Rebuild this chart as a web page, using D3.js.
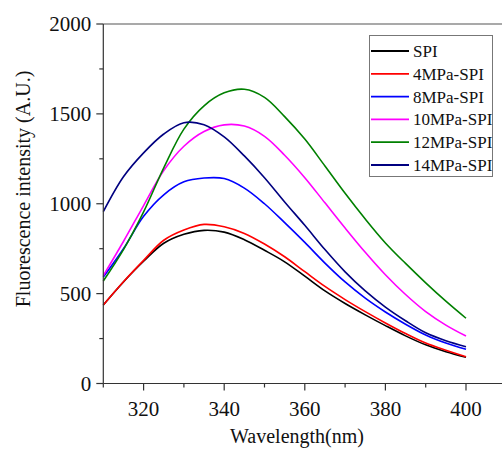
<!DOCTYPE html>
<html>
  <head>
    <meta charset="utf-8">
    <title></title>
    <script type="text/javascript" src="https://d3js.org/d3.v7.min.js"></script>
    <style media="screen">
      body { margin: 0; background: #fff; }
      text { font-family: "Liberation Serif", "Times New Roman", serif; fill: #111; }
    </style>
  </head>
  <body>
    <div class="vis">
    </div>
    <script type="text/javascript">
      var wavelength = [310, 315, 320, 325, 330, 335, 340, 345, 350, 355, 360, 365, 370, 375, 380, 385, 390, 395, 400];
      var spi     = [437, 565, 680, 780, 830, 852, 842, 800, 741, 677, 597, 515, 445, 382, 322, 265, 215, 177, 146];
      var mpa4    = [437, 566, 685, 797, 854, 885, 872, 835, 776, 705, 622, 540, 467, 400, 337, 278, 225, 185, 149];
      var mpa8    = [592, 750, 930, 1050, 1122, 1143, 1140, 1087, 1000, 895, 785, 670, 565, 475, 398, 330, 270, 225, 190];
      var mpa10   = [600, 790, 990, 1185, 1320, 1402, 1439, 1432, 1375, 1270, 1145, 1005, 865, 730, 605, 495, 400, 325, 264];
      var mpa12   = [570, 745, 955, 1200, 1415, 1545, 1617, 1637, 1592, 1485, 1360, 1210, 1058, 915, 782, 668, 560, 458, 363];
      var mpa14   = [956, 1150, 1283, 1388, 1451, 1440, 1372, 1266, 1145, 1010, 880, 745, 621, 515, 425, 349, 282, 238, 205];
      var seriesNames = ["SPI", "4MPa-SPI", "8MPa-SPI", "10MPa-SPI", "12MPa-SPI", "14MPa-SPI"];
      var seriesColors = ["#000000", "#ff0000", "#0000ff", "#ff00ff", "#008000", "#000080"];
      var xTicks = [320, 340, 360, 380, 400];
      var yTicks = [0, 500, 1000, 1500, 2000];

      var w = 502;
      var h = 450;
      var allSeries = [spi, mpa4, mpa8, mpa10, mpa12, mpa14];

      var xscale = d3.scaleLinear().domain([310, 410]).range([103.3, 506.3]);
      var yscale = d3.scaleLinear().domain([0, 2000]).range([383.5, 24]);

      var svg = d3.select('body')
        .append('svg')
        .attr('width', w)
        .attr('height', h);

      // frame top/right (right edge falls outside the picture)
      svg.append('path')
        .attr('d', 'M' + xscale(310) + ',' + yscale(2000) + 'H' + xscale(410) + 'V' + yscale(0))
        .attr('fill', 'none')
        .attr('stroke', '#555')
        .attr('stroke-width', 1.2);

      var line = d3.line()
        .x(function(d, i) { return xscale(wavelength[i]); })
        .y(function(d) { return yscale(d); })
        .curve(d3.curveCatmullRom.alpha(0.5));

      svg.selectAll('path.series')
        .data(allSeries)
        .enter()
        .append('path')
        .attr('class', 'series')
        .attr('d', line)
        .attr('fill', 'none')
        .attr('stroke', function(d, i) { return seriesColors[i]; })
        .attr('stroke-width', 1.6);

      // axes
      var xMinor = d3.range(310, 411, 10);
      var yMinor = d3.range(0, 2001, 250);

      var xAxis = svg.append('g').attr('transform', 'translate(0,' + yscale(0) + ')');
      xAxis.append('path').attr('d', 'M' + xscale(310) + ',0H' + xscale(410)).attr('stroke', '#333').attr('stroke-width', 1.2);
      xAxis.selectAll('line')
        .data(xMinor)
        .enter()
        .append('line')
        .attr('x1', function(d) { return xscale(d); })
        .attr('x2', function(d) { return xscale(d); })
        .attr('y1', 0)
        .attr('y2', function(d) { return d % 20 == 0 ? 7 : 4; })
        .attr('stroke', '#333')
        .attr('stroke-width', 1.2);
      xAxis.selectAll('text')
        .data(xTicks)
        .enter()
        .append('text')
        .attr('x', function(d) { return xscale(d); })
        .attr('y', 32)
        .attr('text-anchor', 'middle')
        .attr('font-size', 21)
        .text(function(d) { return d; });

      var yAxis = svg.append('g').attr('transform', 'translate(' + xscale(310) + ',0)');
      yAxis.append('path').attr('d', 'M0,' + yscale(0) + 'V' + yscale(2000)).attr('stroke', '#333').attr('stroke-width', 1.2);
      yAxis.selectAll('line')
        .data(yMinor)
        .enter()
        .append('line')
        .attr('y1', function(d) { return yscale(d); })
        .attr('y2', function(d) { return yscale(d); })
        .attr('x1', 0)
        .attr('x2', function(d) { return d % 500 == 0 ? -7 : -4; })
        .attr('stroke', '#333')
        .attr('stroke-width', 1.2);
      yAxis.selectAll('text')
        .data(yTicks)
        .enter()
        .append('text')
        .attr('x', -12)
        .attr('y', function(d) { return yscale(d); })
        .attr('dy', '0.35em')
        .attr('text-anchor', 'end')
        .attr('font-size', 21)
        .text(function(d) { return d; });

      svg.append('text')
        .attr('x', 297)
        .attr('y', 443)
        .attr('text-anchor', 'middle')
        .attr('font-size', 20)
        .text('Wavelength(nm)');

      svg.append('text')
        .attr('transform', 'translate(30,189) rotate(-90)')
        .attr('text-anchor', 'middle')
        .attr('font-size', 20)
        .text('Fluorescence intensity (A.U.)');

      // legend
      var legend = svg.append('g');
      legend.append('rect')
        .attr('x', 369.5)
        .attr('y', 35.5)
        .attr('width', 123)
        .attr('height', 141)
        .attr('fill', '#fff')
        .attr('stroke', '#777')
        .attr('stroke-width', 1);
      var rows = legend.selectAll('g.row')
        .data(seriesNames)
        .enter()
        .append('g')
        .attr('class', 'row')
        .attr('transform', function(d, i) { return 'translate(0,' + (51 + i * 22.8) + ')'; });
      rows.append('line')
        .attr('x1', 371)
        .attr('x2', 409)
        .attr('stroke', function(d, i) { return seriesColors[i]; })
        .attr('stroke-width', 1.8);
      rows.append('text')
        .attr('x', 413)
        .attr('dy', '0.35em')
        .attr('font-size', 17)
        .text(function(d) { return d; });
    </script>
  </body>
</html>
